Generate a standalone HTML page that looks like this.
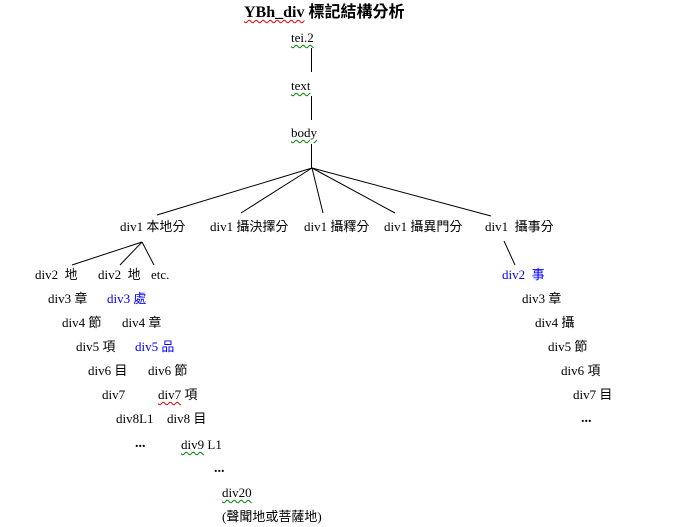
<!DOCTYPE html>
<html><head><meta charset="utf-8"><style>
html,body{margin:0;padding:0;background:#fff;width:679px;height:527px;overflow:hidden;position:relative}
.t{position:absolute;font-family:"Liberation Serif","Noto Sans CJK TC",serif;font-size:13px;line-height:16px;color:#000;white-space:pre}
.b{color:#0000ff}
.g{text-decoration:underline wavy #008000;text-decoration-thickness:1px;text-underline-offset:2px}
.r{text-decoration:underline wavy #e00000;text-decoration-thickness:1px;text-underline-offset:2px}
.d{font-weight:bold}
svg{position:absolute;left:0;top:0}
</style></head><body>
<svg width="679" height="527" stroke="#000" stroke-width="1">
<line x1="311.5" y1="48" x2="311.5" y2="72"/>
<line x1="311.5" y1="96" x2="311.5" y2="120"/>
<line x1="311.5" y1="144" x2="311.5" y2="168"/>
<line x1="312" y1="168" x2="157" y2="215"/>
<line x1="312" y1="168" x2="241" y2="213"/>
<line x1="312" y1="168" x2="323" y2="213"/>
<line x1="312" y1="168" x2="395" y2="213"/>
<line x1="312" y1="168" x2="491" y2="216"/>
<line x1="142" y1="242" x2="72" y2="265"/>
<line x1="142" y1="242" x2="120" y2="265"/>
<line x1="142" y1="242" x2="154" y2="265"/>
<line x1="504" y1="241" x2="515" y2="265"/>
</svg>
<div class="t" style="left:244px;top:3px;font-size:16px;line-height:20px;font-weight:bold"><span class="r">YBh_div</span> 標記結構分析</div>
<div class="t g" style="left:291px;top:30px">tei.2</div>
<div class="t g" style="left:291px;top:78px">text</div>
<div class="t g" style="left:291px;top:125px">body</div>

<div class="t" style="left:120px;top:219px">div1 本地分</div>
<div class="t" style="left:210px;top:219px">div1 攝決擇分</div>
<div class="t" style="left:304px;top:219px">div1 攝釋分</div>
<div class="t" style="left:384px;top:219px">div1 攝異門分</div>
<div class="t" style="left:485px;top:219px">div1  攝事分</div>

<div class="t" style="left:35px;top:267px">div2  地</div>
<div class="t" style="left:98px;top:267px">div2  地</div>
<div class="t" style="left:151px;top:267px">etc.</div>
<div class="t b" style="left:502px;top:267px">div2  事</div>

<div class="t" style="left:48px;top:291px">div3 章</div>
<div class="t b" style="left:107px;top:291px">div3 處</div>
<div class="t" style="left:522px;top:291px">div3 章</div>

<div class="t" style="left:62px;top:315px">div4 節</div>
<div class="t" style="left:122px;top:315px">div4 章</div>
<div class="t" style="left:535px;top:315px">div4 攝</div>

<div class="t" style="left:76px;top:339px">div5 項</div>
<div class="t b" style="left:135px;top:339px">div5 品</div>
<div class="t" style="left:548px;top:339px">div5 節</div>

<div class="t" style="left:88px;top:363px">div6 目</div>
<div class="t" style="left:148px;top:363px">div6 節</div>
<div class="t" style="left:561px;top:363px">div6 項</div>

<div class="t" style="left:102px;top:387px">div7</div>
<div class="t" style="left:158px;top:387px"><span class="r">div7</span> 項</div>
<div class="t" style="left:573px;top:387px">div7 目</div>

<div class="t" style="left:116px;top:411px">div8L1</div>
<div class="t" style="left:167px;top:411px">div8 目</div>
<div class="t d" style="left:581px;top:411px;font-size:14px">...</div>

<div class="t d" style="left:135px;top:436px;font-size:14px">...</div>
<div class="t" style="left:181px;top:437px"><span class="g">div9</span> L1</div>
<div class="t d" style="left:214px;top:461px;font-size:14px">...</div>
<div class="t g" style="left:222px;top:485px">div20</div>
<div class="t" style="left:222px;top:509px">(聲聞地或菩薩地)</div>
</body></html>
